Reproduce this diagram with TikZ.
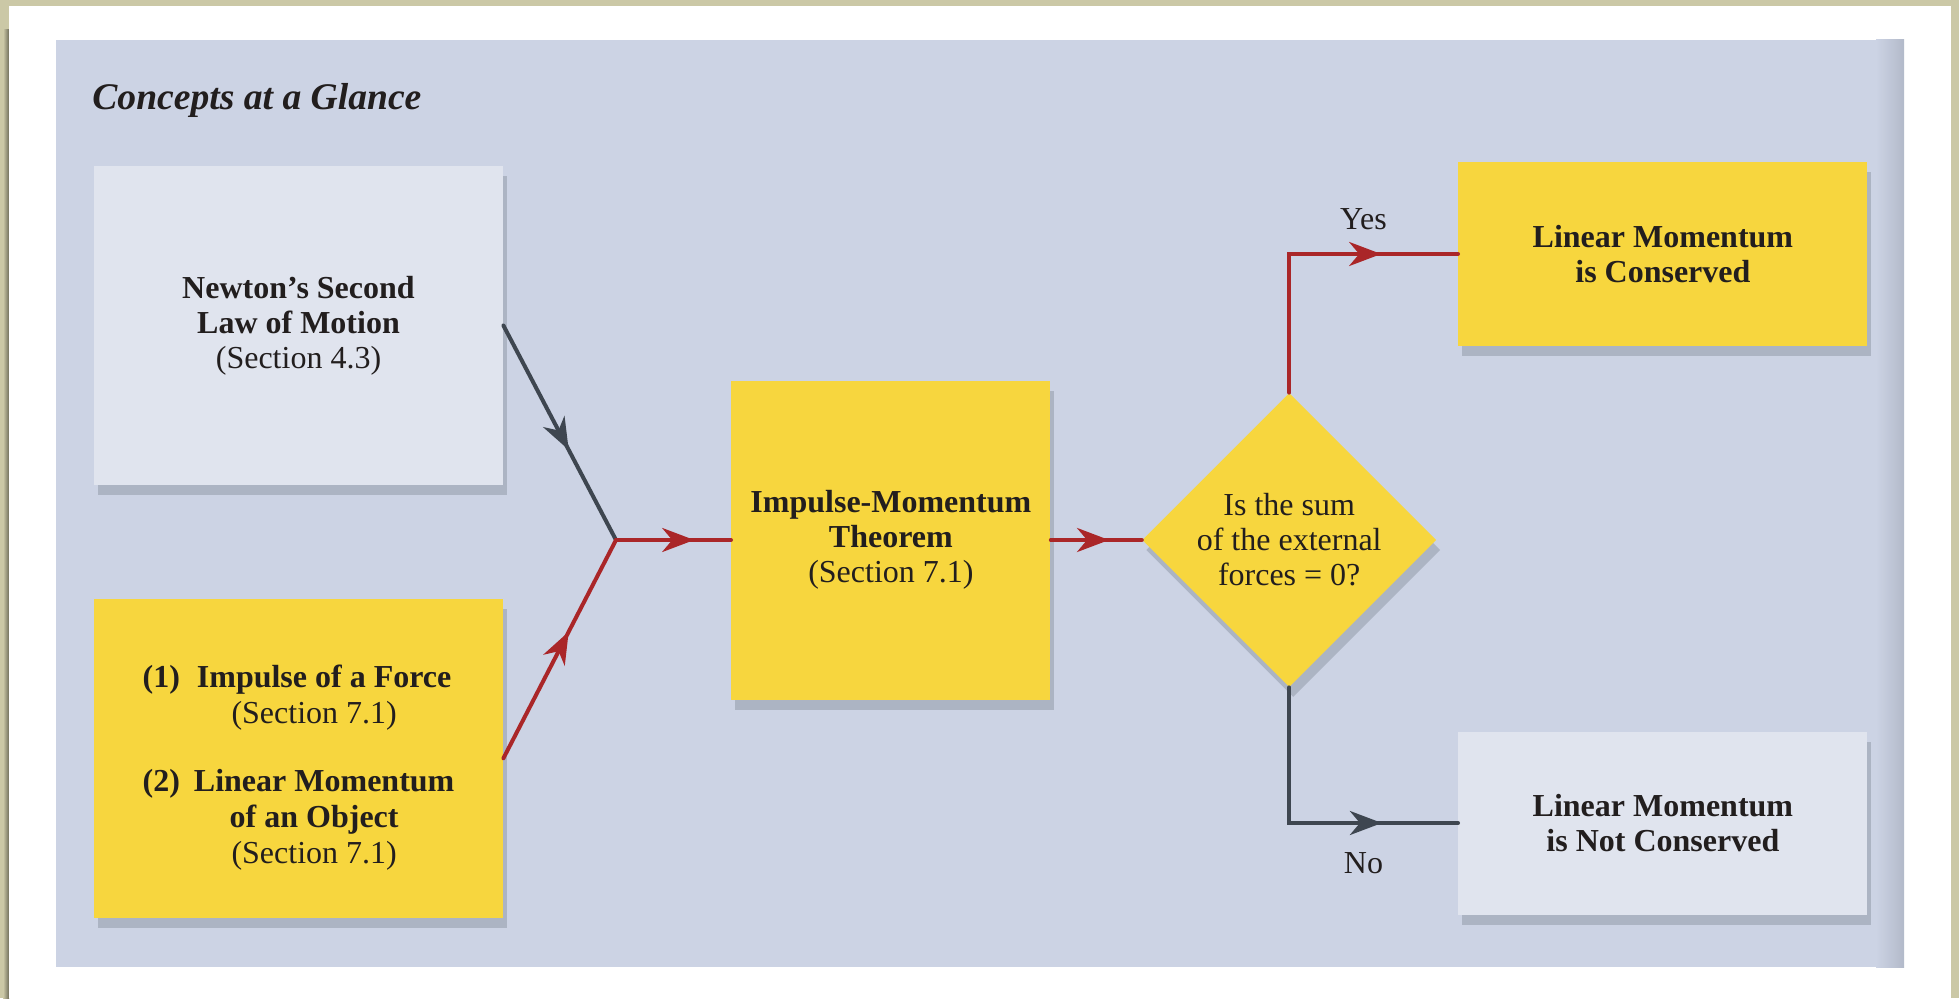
\documentclass[tikz,border=0pt]{standalone}
\usepackage{fontspec}
\setmainfont{Liberation Serif}
\usetikzlibrary{arrows.meta,positioning,shapes.geometric,shadows,decorations.markings}
\definecolor{frame}{RGB}{203,200,166}
\definecolor{panel}{RGB}{204,211,228}
\definecolor{pale}{RGB}{224,228,238}
\definecolor{gold}{RGB}{247,214,62}
\definecolor{flow}{RGB}{170,38,40}
\definecolor{slate}{RGB}{62,70,80}
\definecolor{ink}{RGB}{34,30,30}
\newcommand{\boxfont}{\fontsize{16}{17.5}\selectfont}

\begin{document}
\begin{tikzpicture}[x=1pt,y=1pt,
 conceptbox/.style={inner sep=0pt,align=center,text=ink,font=\boxfont\bfseries,
   drop shadow={shadow xshift=2pt,shadow yshift=-5pt,opacity=.22,fill=slate}},
 bigbox/.style={conceptbox,minimum width=204.5pt,minimum height=159.5pt},
 sqbox/.style={conceptbox,minimum width=159.5pt,minimum height=159.5pt},
 flatbox/.style={conceptbox,minimum width=204.5pt,minimum height=91.5pt},
 testbox/.style={conceptbox,diamond,aspect=1,minimum width=147pt,minimum height=147pt,font=\boxfont},
 midarrow/.style={postaction={decorate},decoration={markings,
   mark=at position #1 with {\arrow{Stealth[length=16pt,width=12pt,inset=5pt]}}}},
 link/.style={line width=2pt,line cap=round,midarrow=#1},
 answer/.style={inner sep=0pt,text=ink,font=\boxfont}]
% page and panel
\fill[frame] (0,0) rectangle (979.5,499);
\shade[left color=frame,right color=frame!55!black] (1.5,0) rectangle (4.5,484);
\fill[white] (4.5,0) rectangle (975.5,496);
\fill[panel] (28,15.5) rectangle (952,479);
\shade[left color=panel,right color=panel!82!slate] (938,15.5) rectangle (952,479);
\node[anchor=west,inner sep=0pt,text=ink,font=\fontsize{18.8}{20}\selectfont\bfseries\itshape] (title) at (46,449) {Concepts at a Glance};

% concepts
\node[bigbox,fill=pale] (newton) at (149.25,336.25) {Newton's Second\\Law of Motion\\{\mdseries(Section 4.3)}};
\node[bigbox,fill=gold,below=56.5pt of newton] (impulse) {\fontsize{16}{18}\selectfont
 \begin{tabular}{@{}r@{\hspace{7pt}}c@{}}
 \rule{0pt}{23pt}(1) & Impulse of a Force\\
     & \mdseries(Section 7.1)\hspace*{10pt}\\[16pt]
 (2) & Linear Momentum\\
     & of an Object\hspace*{10pt}\\
     & \mdseries(Section 7.1)\hspace*{10pt}
 \end{tabular}};
\coordinate (join) at (308,229);
\node[sqbox,fill=gold,right=57.5pt of join] (theorem) {Impulse-Momentum\\Theorem\\{\mdseries(Section 7.1)}};
\node[testbox,fill=gold,right=45.5pt of theorem] (sum) {Is the sum\\of the external\\forces = 0?};
\node[flatbox,fill=gold,anchor=west] (kept) at (729,372) {Linear Momentum\\is Conserved};
\node[flatbox,fill=pale,anchor=west] (lost) at (729,87.5) {Linear Momentum\\is Not Conserved};

% connectors
\draw[link=.58,slate] (newton.east) -- (join);
\draw[link=.58,flow] (impulse.east) -- (join);
\draw[link=.68,flow] (join) -- (theorem.west);
\draw[link=.64,flow] (theorem.east) -- (sum.west);
\draw[link=.75,flow] (sum.north) |- (kept.west) node[pos=.72,above=11pt,answer] {Yes};
\draw[link=.75,slate] (sum.south) |- (lost.west) node[pos=.72,below=14pt,answer] {No};
\end{tikzpicture}
\end{document}
